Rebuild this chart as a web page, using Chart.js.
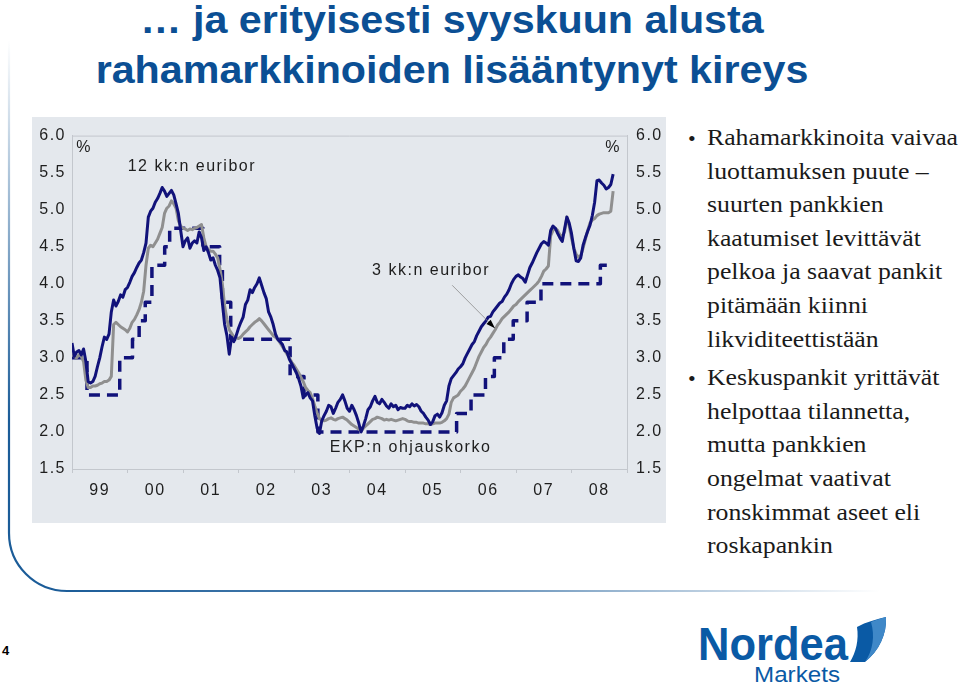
<!DOCTYPE html>
<html>
<head>
<meta charset="utf-8">
<script src="https://cdn.jsdelivr.net/npm/chart.js@4.4.1/dist/chart.umd.min.js"></script>
<style>
  html, body { margin: 0; padding: 0; background: #fff; }
  body { width: 960px; height: 684px; position: relative; overflow: hidden; font-family: 'Liberation Sans', Arial, sans-serif; }
  .title { position: absolute; left: 0; width: 904px; text-align: center; font-weight: bold; font-size: 38px; line-height: 38px;
           color: #0b4f94; white-space: nowrap; transform: scaleX(1.085); transform-origin: 452px 0; }
  #panel { position: absolute; left: 32px; top: 117px; width: 634px; height: 406px; background: #e4e8ed; }
  #text { position: absolute; left: 0; top: 0; font-family: 'Liberation Serif', 'DejaVu Serif', serif; font-size: 24px; color: #1a1a1a; }
  #text .ln { position: absolute; left: 707px; white-space: nowrap; line-height: 24px; transform-origin: 0 0; }
  #text .bul { position: absolute; left: 688px; font-size: 22px; line-height: 22px; }
  #page { position: absolute; left: 2px; top: 643px; font: bold 13px 'Liberation Sans', Arial, sans-serif; color: #000; }
  #nordea { position: absolute; left: 698px; top: 621px; font: bold 46px/46px 'Liberation Sans', Arial, sans-serif; color: #0a5aa5; transform-origin: 0 0; }
  #markets { position: absolute; left: 754px; top: 664px; font: 22px/22px 'Liberation Sans', Arial, sans-serif; color: #0a5aa5; transform-origin: 0 0; }
</style>
</head>
<body>
<svg width="960" height="684" style="position:absolute;left:0;top:0">
  <defs>
    <linearGradient id="gv" x1="0" y1="40" x2="0" y2="420" gradientUnits="userSpaceOnUse">
      <stop offset="0" stop-color="#1b5c98" stop-opacity="0"/>
      <stop offset="1" stop-color="#1b5c98"/>
    </linearGradient>
    <linearGradient id="gh" x1="60" y1="0" x2="880" y2="0" gradientUnits="userSpaceOnUse">
      <stop offset="0" stop-color="#1b5c98"/>
      <stop offset="0.5" stop-color="#1b5c98" stop-opacity="0.7"/>
      <stop offset="1" stop-color="#1b5c98" stop-opacity="0"/>
    </linearGradient>
  </defs>
  <path d="M9,40 V533" stroke="url(#gv)" stroke-width="2.2" fill="none"/>
  <path d="M9,533 A58,58 0 0 0 67,591 H880" stroke="url(#gh)" stroke-width="2.2" fill="none"/>
  <path d="M857,627 C866,622 877,619 886,617 C887,634 879,651 865,662 L850,662 C856,652 859,640 857,627 Z" fill="#0a5aa5"/>
  <path d="M871,622 C876,620 881,618 886,617 C887,634 879,651 865,662 C873,650 875,636 871,622 Z" fill="#3f88c8"/>
</svg>

<div class="title" style="top:1px">… ja erityisesti syyskuun alusta</div>
<div class="title" style="top:51px">rahamarkkinoiden lisääntynyt kireys</div>

<div id="panel"><canvas id="chart" width="634" height="406"></canvas></div>

<div id="text"></div>
<div id="page">4</div>
<div id="nordea">Nordea</div>
<div id="markets">Markets</div>

<script>
// x positions: first observation at start of 1999, two observations a month
const firstYear = 1999;
const perYear = 24;
const yearLabels = ['99', '00', '01', '02', '03', '04', '05', '06', '07', '08'];

// 12 kk:n euribor (%)
const euribor12m = [
  3.20, 3.02, 3.08, 3.10, 3.04, 3.12, 2.95, 2.68, 2.66, 2.68, 2.75, 2.88, 3.00, 3.15, 3.28, 3.25, 3.32, 3.62, 3.78, 3.70, 3.76, 3.85, 3.82, 3.92,
  3.95, 4.02, 4.10, 4.15, 4.22, 4.28, 4.32, 4.42, 4.55, 4.90, 4.98, 5.02, 5.10, 5.15, 5.22, 5.30, 5.25, 5.18, 5.22, 5.26, 5.20, 5.08, 4.95, 4.72,
  4.50, 4.58, 4.62, 4.48, 4.55, 4.58, 4.55, 4.70, 4.62, 4.45, 4.50, 4.42, 4.32, 4.35, 4.25, 4.18, 4.08, 3.75, 3.45, 3.30, 3.05, 3.28, 3.22, 3.30,
  3.40, 3.48, 3.55, 3.72, 3.78, 3.92, 3.88, 3.95, 4.00, 4.08, 3.98, 3.88, 3.80, 3.62, 3.55, 3.45, 3.32, 3.25, 3.22, 3.18, 3.10, 3.08, 2.98, 2.92,
  2.86, 2.80, 2.72, 2.62, 2.46, 2.50, 2.53, 2.46, 2.42, 2.22, 2.05, 1.98, 2.15, 2.22, 2.28, 2.36, 2.34, 2.25, 2.32, 2.40, 2.44, 2.50, 2.42, 2.32,
  2.28, 2.36, 2.30, 2.22, 2.12, 2.00, 2.08, 2.18, 2.30, 2.34, 2.42, 2.48, 2.40, 2.38, 2.44, 2.40, 2.35, 2.32, 2.38, 2.34, 2.36, 2.30, 2.33, 2.32,
  2.32, 2.36, 2.34, 2.38, 2.35, 2.37, 2.34, 2.28, 2.25, 2.20, 2.16, 2.10, 2.14, 2.22, 2.24, 2.20, 2.26, 2.36, 2.42, 2.62, 2.72, 2.76, 2.80, 2.85,
  2.88, 2.92, 3.00, 3.06, 3.12, 3.18, 3.22, 3.30, 3.36, 3.42, 3.46, 3.50, 3.55, 3.56, 3.62, 3.66, 3.70, 3.74, 3.76, 3.82, 3.86, 3.92, 4.00, 4.06,
  4.10, 4.12, 4.09, 4.07, 4.02, 4.12, 4.22, 4.28, 4.35, 4.42, 4.48, 4.54, 4.57, 4.55, 4.52, 4.72, 4.78, 4.75, 4.68, 4.62, 4.57, 4.74, 4.90, 4.82,
  4.68, 4.48, 4.31, 4.30, 4.35, 4.52, 4.62, 4.71, 4.79, 4.92, 5.10, 5.39, 5.40, 5.36, 5.33, 5.28, 5.30, 5.34, 5.48
];

// 3 kk:n euribor (%)
const euribor3m = [
  3.05, 3.02, 3.00, 3.04, 3.02, 2.95, 2.70, 2.60, 2.60, 2.62, 2.62, 2.63, 2.65, 2.66, 2.68, 2.68, 2.70, 2.75, 3.45, 3.48, 3.45, 3.42, 3.40, 3.38,
  3.35, 3.40, 3.48, 3.52, 3.58, 3.65, 3.75, 3.90, 4.25, 4.48, 4.52, 4.50, 4.55, 4.60, 4.68, 4.76, 4.95, 5.02, 5.05, 5.12, 5.08, 5.02, 4.85, 4.78,
  4.75, 4.74, 4.72, 4.74, 4.73, 4.75, 4.76, 4.78, 4.80, 4.62, 4.50, 4.46, 4.44, 4.44, 4.40, 4.35, 4.20, 4.00, 3.70, 3.52, 3.38, 3.33, 3.28, 3.27,
  3.26, 3.28, 3.32, 3.35, 3.38, 3.42, 3.45, 3.48, 3.50, 3.53, 3.50, 3.46, 3.42, 3.38, 3.34, 3.30, 3.28, 3.25, 3.20, 3.15, 3.10, 3.05, 3.00, 2.94,
  2.90, 2.85, 2.80, 2.74, 2.68, 2.60, 2.56, 2.53, 2.45, 2.35, 2.26, 2.18, 2.16, 2.15, 2.16, 2.18, 2.19, 2.17, 2.16, 2.18, 2.19, 2.20, 2.18, 2.16,
  2.13, 2.10, 2.08, 2.06, 2.04, 2.01, 2.05, 2.08, 2.11, 2.14, 2.17, 2.18, 2.20, 2.19, 2.18, 2.16, 2.17, 2.16, 2.17, 2.16, 2.15, 2.16, 2.17, 2.18,
  2.17, 2.15, 2.14, 2.14, 2.13, 2.13, 2.12, 2.12, 2.12, 2.11, 2.11, 2.10, 2.11, 2.12, 2.12, 2.12, 2.13, 2.15, 2.18, 2.24, 2.40, 2.46, 2.48, 2.50,
  2.55, 2.58, 2.62, 2.68, 2.74, 2.80, 2.86, 2.94, 3.02, 3.08, 3.14, 3.18, 3.24, 3.28, 3.33, 3.38, 3.44, 3.48, 3.53, 3.56, 3.59, 3.62, 3.66, 3.70,
  3.72, 3.76, 3.79, 3.82, 3.85, 3.88, 3.91, 3.94, 3.97, 4.00, 4.04, 4.10, 4.17, 4.20, 4.24, 4.65, 4.72, 4.75, 4.72, 4.66, 4.64, 4.70, 4.90, 4.78,
  4.62, 4.48, 4.40, 4.36, 4.38, 4.48, 4.60, 4.72, 4.82, 4.86, 4.88, 4.92, 4.94, 4.95, 4.96, 4.96, 4.96, 4.98, 5.25
];

// EKP:n ohjauskorko: decision dates (decimal years) and the rate from that date on
const ecbDates = [1999.00, 1999.27, 1999.86, 2000.09, 2000.21, 2000.32, 2000.44, 2000.67, 2000.76, 2001.36, 2001.66, 2001.71,
                  2001.86, 2002.93, 2003.18, 2003.43, 2005.93, 2006.19, 2006.45, 2006.61, 2006.78, 2006.95, 2007.20, 2007.45, 2008.52, 2008.75];
const ecbRates = [3.00, 2.50, 3.00, 3.25, 3.50, 3.75, 4.25, 4.50, 4.75, 4.50, 4.25, 3.75,
                  3.25, 2.75, 2.50, 2.00, 2.25, 2.50, 2.75, 3.00, 3.25, 3.50, 3.75, 4.00, 4.25, 4.25];

// text labels placed inside the plot, in axis units
const notes = [
  { text: '%', x: 1999.22, y: 5.84 },
  { text: '%', x: 2008.75, y: 5.84 },
  { text: '12 kk:n euribor', x: 2001.16, y: 5.58 },
  { text: '3 kk:n euribor', x: 2005.47, y: 4.18 },
  { text: 'EKP:n ohjauskorko', x: 2005.10, y: 1.79 }
];
const pointer = { from: [2005.85, 3.98], to: [2006.62, 3.40] };

const bullets = [
  ['Rahamarkkinoita vaivaa', 'luottamuksen puute –', 'suurten pankkien', 'kaatumiset levittävät',
   'pelkoa ja saavat pankit', 'pitämään kiinni', 'likviditeettistään'],
  ['Keskuspankit yrittävät', 'helpottaa tilannetta,', 'mutta pankkien', 'ongelmat vaativat',
   'ronskimmat aseet eli', 'roskapankin']
];

// ---- right-hand text
const textBox = document.getElementById('text');
let base = 145;
bullets.forEach(lines => {
  const dot = document.createElement('div');
  dot.className = 'bul';
  dot.textContent = '•';
  dot.style.top = (base - 17) + 'px';
  textBox.appendChild(dot);
  lines.forEach(t => {
    const d = document.createElement('div');
    d.className = 'ln';
    d.textContent = t;
    d.style.top = (base - 20) + 'px';
    textBox.appendChild(d);
    base += 33.6;
  });
  base += 5;
});
const lines = textBox.querySelectorAll('.ln');
const sx = 251 / lines[0].getBoundingClientRect().width;
lines.forEach(d => { d.style.transform = 'scaleX(' + sx + ')'; });

const fitWidth = (id, w) => {
  const el = document.getElementById(id);
  el.style.transform = 'scaleX(' + (w / el.getBoundingClientRect().width) + ')';
};
fitWidth('nordea', 150);
fitWidth('markets', 86);

// ---- chart
const ink = '#1e1e1e';
const edge = '#c3c7cd';
const navy = '#11127a';
const labelFont = { family: "'Liberation Sans', Arial, sans-serif", size: 16 };

const toPoints = vals => vals.map((v, i) => ({ x: firstYear + i / perYear, y: v }));
const ecbPoints = ecbDates.map((d, i) => ({ x: d, y: ecbRates[i] }));

const notesPlugin = {
  id: 'notes',
  beforeDraw(chart) { chart.ctx.letterSpacing = '1.5px'; },
  afterDatasetsDraw(chart) {
    const { ctx, chartArea, scales: { x, y } } = chart;
    ctx.save();
    ctx.strokeStyle = edge;
    ctx.lineWidth = 1;
    ctx.beginPath();
    ctx.moveTo(chartArea.left, chartArea.top + 0.5);
    ctx.lineTo(chartArea.right, chartArea.top + 0.5);
    ctx.stroke();

    const x1 = x.getPixelForValue(pointer.from[0]), y1 = y.getPixelForValue(pointer.from[1]);
    const x2 = x.getPixelForValue(pointer.to[0]), y2 = y.getPixelForValue(pointer.to[1]);
    ctx.strokeStyle = '#8a8a8a';
    ctx.lineWidth = 0.8;
    ctx.beginPath();
    ctx.moveTo(x1, y1);
    ctx.lineTo(x2, y2);
    ctx.stroke();
    const a = Math.atan2(y2 - y1, x2 - x1);
    ctx.fillStyle = '#000';
    ctx.beginPath();
    ctx.moveTo(x2, y2);
    ctx.lineTo(x2 - 9 * Math.cos(a) + 3 * Math.sin(a), y2 - 9 * Math.sin(a) - 3 * Math.cos(a));
    ctx.lineTo(x2 - 9 * Math.cos(a) - 3 * Math.sin(a), y2 - 9 * Math.sin(a) + 3 * Math.cos(a));
    ctx.closePath();
    ctx.fill();

    ctx.fillStyle = ink;
    ctx.font = "16px 'Liberation Sans', Arial, sans-serif";
    ctx.textAlign = 'center';
    ctx.textBaseline = 'middle';
    notes.forEach(n => ctx.fillText(n.text, x.getPixelForValue(n.x), y.getPixelForValue(n.y)));
    ctx.restore();
  }
};

const yTicks = (pad) => ({ stepSize: 0.5, padding: pad, color: ink, font: labelFont, callback: v => v.toFixed(1) });

new Chart(document.getElementById('chart'), {
  type: 'line',
  data: {
    datasets: [
      { label: '12 kk:n euribor', data: toPoints(euribor12m), borderColor: navy, borderWidth: 3, order: 0 },
      { label: '3 kk:n euribor', data: toPoints(euribor3m), borderColor: '#8f8f8f', borderWidth: 3, order: 1 },
      { label: 'EKP:n ohjauskorko', data: ecbPoints, borderColor: navy, borderWidth: 3.5,
        stepped: 'before', borderDash: [11, 7], borderCapStyle: 'butt', order: 2 }
    ]
  },
  options: {
    responsive: false,
    animation: false,
    devicePixelRatio: 1,
    layout: { padding: { top: 14 } },
    elements: { point: { radius: 0 }, line: { tension: 0, borderJoinStyle: 'round' } },
    plugins: { legend: { display: false }, tooltip: { enabled: false } },
    scales: {
      x: {
        type: 'linear', position: 'bottom', min: firstYear, max: firstYear + yearLabels.length,
        afterBuildTicks: s => { s.ticks = yearLabels.map((_, i) => ({ value: firstYear + i + 0.5 })); },
        afterFit: s => { s.height = 54; },
        grid: { offset: true, drawOnChartArea: false, tickLength: 4, color: edge },
        border: { color: edge },
        ticks: { autoSkip: false, maxRotation: 0, padding: 8, color: ink, font: labelFont, callback: (v, i) => yearLabels[i] }
      },
      y: {
        position: 'left', min: 1.5, max: 6,
        afterFit: s => { s.width = 40; },
        grid: { display: false, drawTicks: false },
        border: { color: edge },
        ticks: yTicks(6)
      },
      y2: {
        position: 'right', min: 1.5, max: 6,
        afterFit: s => { s.width = 39; },
        grid: { display: false, drawTicks: false },
        border: { color: edge },
        ticks: yTicks(9)
      }
    }
  },
  plugins: [notesPlugin]
});
</script>
</body>
</html>
